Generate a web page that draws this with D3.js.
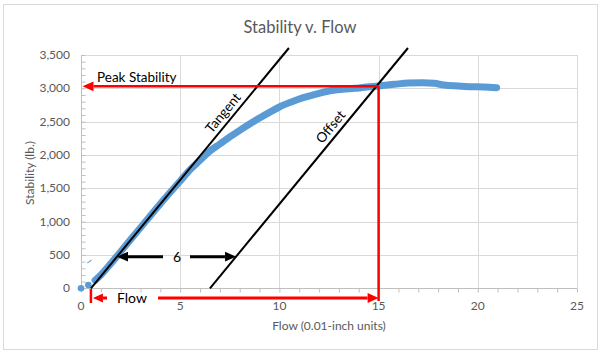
<!DOCTYPE html>
<html>
<head>
<meta charset="utf-8">
<script src="https://cdn.jsdelivr.net/npm/d3@7"></script>
<style>
  body { margin: 0; background: #fff; }
  text { font-family: Lato, "Open Sans", sans-serif; }
</style>
</head>
<body>
<div id="chart"></div>
<script>
// test curve
var flow = [0.71, 1.0, 1.5, 2.0, 3.0, 4.0, 5.0, 5.5, 6.0, 6.5, 7.0, 7.5, 8.0, 8.5, 9.0, 9.5, 10.0, 10.6, 11.2, 11.8, 12.5, 13.2, 13.8, 14.4, 15.0, 15.8, 16.5, 17.2, 17.8, 18.3, 19.0, 19.6, 20.3, 20.95];
var stability = [120, 200, 370, 550, 910, 1270, 1610, 1780, 1920, 2060, 2165, 2270, 2370, 2465, 2555, 2640, 2720, 2795, 2860, 2910, 2960, 2985, 3000, 3020, 3035, 3060, 3080, 3085, 3075, 3050, 3035, 3025, 3020, 3010];
// stray early points
var earlyFlow = [0, 0.37];
var earlyStab = [0, 50];
var dashFlow = [0.32, 0.54];
var dashStab = [380, 425];

// construction lines
var tangentX = [0.5, 10.48];
var tangentY = [0, 3605];
var offsetX = [6.5, 16.48];
var offsetY = [0, 3605];
var peakFlow = 15;
var peakStab = 3030;
var offsetGap = 6;
var gapLevel = 475;

var xTicks = [0, 5, 10, 15, 20, 25];
var yTicks = [0, 500, 1000, 1500, 2000, 2500, 3000, 3500];

var width = 600, height = 354;
var svg = d3.select("#chart").append("svg").attr("width", width).attr("height", height);

svg.append("rect").attr("x", 3.5).attr("y", 4.5).attr("width", 594).attr("height", 345)
  .attr("fill", "#fff").attr("stroke", "#d9d9d9");

var x = d3.scaleLinear().domain([0, 25]).range([81, 577]);
var y = d3.scaleLinear().domain([0, 3500]).range([288.3, 55]);

// gridlines
svg.append("g").selectAll("line").data(yTicks.slice(1)).enter().append("line")
  .attr("x1", x(0)).attr("x2", x(25)).attr("y1", function (d) { return Math.round(y(d)) + 0.5; })
  .attr("y2", function (d) { return Math.round(y(d)) + 0.5; })
  .attr("stroke", "#d9d9d9");
svg.append("g").selectAll("line").data(xTicks.slice(1)).enter().append("line")
  .attr("y1", y(0)).attr("y2", y(3500)).attr("x1", function (d) { return Math.round(x(d)) + 0.5; })
  .attr("x2", function (d) { return Math.round(x(d)) + 0.5; })
  .attr("stroke", "#d9d9d9");

// axes with minor ticks
var xAxis = svg.append("g").attr("transform", "translate(0," + (Math.round(y(0)) + 0.5) + ")")
  .call(d3.axisBottom(x).tickValues(d3.range(0, 26)).tickSize(4).tickFormat(""));
xAxis.selectAll("path, line").attr("stroke", "#bfbfbf");
var yAxis = svg.append("g").attr("transform", "translate(" + (Math.round(x(0)) + 0.5) + ",0)")
  .call(d3.axisRight(y).tickValues(d3.range(0, 3501, 100)).tickSize(4).tickFormat(""));
yAxis.selectAll("path, line").attr("stroke", "#bfbfbf");
xAxis.select(".domain").attr("d", "M" + (x(0) - 0.5) + ",0H" + x(25));
yAxis.select(".domain").attr("d", "M0," + y(3500) + "V" + y(0));

// tick labels
svg.append("g").selectAll("text").data(xTicks).enter().append("text")
  .attr("x", function (d) { return x(d); }).attr("y", 310)
  .attr("text-anchor", "middle").attr("font-size", 12).attr("fill", "#595959")
  .text(function (d) { return d; });
svg.append("g").selectAll("text").data(yTicks).enter().append("text")
  .attr("x", 70).attr("y", function (d) { return y(d) + 4; })
  .attr("text-anchor", "end").attr("font-size", 12).attr("fill", "#595959")
  .text(d3.format(","));

// titles
svg.append("text").attr("x", 300).attr("y", 33).attr("text-anchor", "middle")
  .attr("font-size", 16.5).attr("fill", "#595959").text("Stability v. Flow");
svg.append("text").attr("x", 329).attr("y", 330).attr("text-anchor", "middle")
  .attr("font-size", 12).attr("fill", "#595959").text("Flow (0.01-inch units)");
svg.append("text").attr("transform", "translate(34,173) rotate(-90)").attr("text-anchor", "middle")
  .attr("font-size", 12).attr("fill", "#595959").text("Stability (lb.)");

// data
var pts = flow.map(function (d, i) { return [x(d), y(stability[i])]; });
svg.append("path").attr("d", d3.line().curve(d3.curveMonotoneX)(pts))
  .attr("fill", "none").attr("stroke", "#5b9bd5").attr("stroke-width", 7)
  .attr("stroke-linecap", "round").attr("stroke-linejoin", "round");
svg.append("g").selectAll("circle").data(earlyFlow).enter().append("circle")
  .attr("cx", function (d) { return x(d); }).attr("cy", function (d, i) { return y(earlyStab[i]); })
  .attr("r", 3.3).attr("fill", "#5b9bd5");
svg.append("line").attr("x1", x(dashFlow[0])).attr("y1", y(dashStab[0]))
  .attr("x2", x(dashFlow[1])).attr("y2", y(dashStab[1]))
  .attr("stroke", "#5b9bd5").attr("stroke-width", 1.2).attr("opacity", 0.8);

// tangent and offset lines
svg.append("line").attr("x1", x(tangentX[0])).attr("y1", y(tangentY[0]))
  .attr("x2", x(tangentX[1])).attr("y2", y(tangentY[1])).attr("stroke", "#000").attr("stroke-width", 2);
svg.append("line").attr("x1", x(offsetX[0])).attr("y1", y(offsetY[0]))
  .attr("x2", x(offsetX[1])).attr("y2", y(offsetY[1])).attr("stroke", "#000").attr("stroke-width", 2);

var slope = (tangentY[1] - tangentY[0]) / (tangentX[1] - tangentX[0]);
var ang = Math.atan2(y(tangentY[0]) - y(tangentY[1]), x(tangentX[1]) - x(tangentX[0])) * 180 / Math.PI;
function lineLabel(x0, yv, label) {
  var xv = x0 + yv / slope;
  svg.append("text").attr("transform", "translate(" + x(xv) + "," + y(yv) + ") rotate(" + (-ang) + ")")
    .attr("dy", -5).attr("text-anchor", "middle").attr("font-size", 13.5).attr("fill", "#000").text(label);
}
lineLabel(tangentX[0], 2540, "Tangent");
lineLabel(offsetX[0], 2330, "Offset");

// arrow helper
function arrow(x1, y1, x2, y2, color, w, head) {
  var dx = x2 - x1, dy = y2 - y1, len = Math.sqrt(dx * dx + dy * dy);
  var ux = dx / len, uy = dy / len;
  var bx = x2 - ux * head, by = y2 - uy * head;
  svg.append("line").attr("x1", x1).attr("y1", y1).attr("x2", bx).attr("y2", by)
    .attr("stroke", color).attr("stroke-width", w);
  var hw = head * 0.45;
  svg.append("path").attr("d", "M" + x2 + "," + y2 + "L" + (bx - uy * hw) + "," + (by + ux * hw) +
    "L" + (bx + uy * hw) + "," + (by - ux * hw) + "Z").attr("fill", color);
}

// peak stability and flow markers
var red = "#ff0000";
svg.append("line").attr("x1", x(peakFlow)).attr("y1", y(peakStab)).attr("x2", x(peakFlow)).attr("y2", 301)
  .attr("stroke", red).attr("stroke-width", 2.5);
arrow(x(peakFlow), y(peakStab), x(0) + 1.5, y(peakStab), red, 2.5, 11);
arrow(158, 298, x(peakFlow), 298, red, 3, 11);
svg.append("line").attr("x1", x(tangentX[0])).attr("x2", x(tangentX[0])).attr("y1", 289).attr("y2", 303)
  .attr("stroke", red).attr("stroke-width", 2.5);
arrow(107, 298, x(tangentX[0]) + 2, 298, red, 3, 10);
svg.append("text").attr("x", 97).attr("y", 82).attr("font-size", 13.5).attr("fill", "#000").text("Peak Stability");
svg.append("text").attr("x", 117).attr("y", 303).attr("font-size", 14).attr("fill", "#000").text("Flow");

// the 6 unit gap
var tipL = x(tangentX[0] + gapLevel / slope), tipR = x(offsetX[0] + gapLevel / slope);
arrow(163, y(gapLevel), tipL, y(gapLevel), "#000", 3, 11);
arrow(190, y(gapLevel), tipR, y(gapLevel), "#000", 3, 11);
svg.append("text").attr("x", 177).attr("y", y(gapLevel) + 5).attr("text-anchor", "middle")
  .attr("font-size", 14).attr("fill", "#000").text(offsetGap);
</script>
</body>
</html>
